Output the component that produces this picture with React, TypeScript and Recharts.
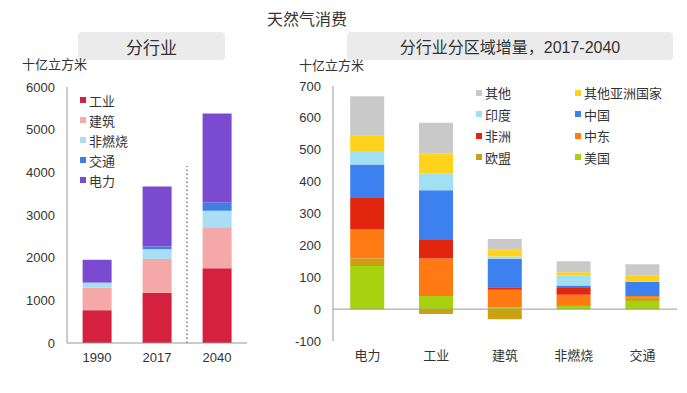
import React from 'react';
import { BarChart, Bar, XAxis, YAxis, Legend, ReferenceLine } from 'recharts';

// 左图：分行业（十亿立方米）
const sectorYears = ['1990', '2017', '2040'];
const industry = [770, 1175, 1750];
const buildings = [530, 795, 965];
const nonCombustion = [110, 230, 385];
const transport = [10, 60, 195];
const power = [530, 1410, 2085];
const sectorNames = ['工业', '建筑', '非燃烧', '交通', '电力'];
const sectorColors = ['#D6203F', '#F5A8A8', '#A8DFF4', '#3E7FE3', '#7A4BD1'];
const sectorTicks = [0, 1000, 2000, 3000, 4000, 5000, 6000];

// 右图：分行业分区域增量，2017-2040
const regionSectors = ['电力', '工业', '建筑', '非燃烧', '交通'];
const us = [135, 41, 6, 10, 23];
const eu = [24, -15, -32, 3, 14];
const middleEast = [91, 118, 55, 32, 4];
const africa = [99, 58, 8, 21, 0];
const china = [105, 156, 89, 8, 44];
const india = [42, 53, 7, 32, 3];
const otherAsia = [48, 63, 21, 10, 18];
const others = [124, 96, 34, 34, 35];
const regionNames = ['美国', '欧盟', '中东', '非洲', '中国', '印度', '其他亚洲国家', '其他'];
const regionColors = ['#A6D20F', '#C9A112', '#FF7A12', '#E2260E', '#3D80F0', '#A0E0F2', '#FFD21C', '#C9C9C9'];
const regionLegendOrder = ['其他', '其他亚洲国家', '印度', '中国', '非洲', '中东', '欧盟', '美国'];
const regionTicks = [-100, 0, 100, 200, 300, 400, 500, 600, 700];

const sectorSeries = [industry, buildings, nonCombustion, transport, power];
const sectorData = sectorYears.map((year, i) => {
  const row: Record<string, string | number> = { year };
  sectorNames.forEach((name, k) => { row[name] = sectorSeries[k][i]; });
  return row;
});

const regionSeries = [us, eu, middleEast, africa, china, india, otherAsia, others];
const regionData = regionSectors.map((sector, i) => {
  const row: Record<string, string | number> = { sector };
  regionNames.forEach((name, k) => { row[name] = regionSeries[k][i]; });
  return row;
});

const FONT = '"Liberation Sans", Arial, "Noto Sans CJK SC", sans-serif';
const tickStyle = { fontSize: 13, fill: '#333' };

const SquareLegend = ({ names, colorOf, columns, colWidth, rowHeight }: {
  names: string[]; colorOf: (n: string) => string; columns: number; colWidth: number; rowHeight: number;
}) => (
  <div style={{ display: 'grid', gridTemplateColumns: `repeat(${columns}, ${colWidth}px)`, fontFamily: FONT }}>
    {names.map(name => (
      <div key={name} style={{ display: 'flex', alignItems: 'center', height: rowHeight, fontSize: 13, color: '#333' }}>
        <span style={{ width: 6, height: 6, background: colorOf(name), marginRight: 3 }} />
        {name}
      </div>
    ))}
  </div>
);

const titleBox: React.CSSProperties = {
  position: 'absolute',
  top: 32,
  height: 28,
  background: '#EBEBEB',
  borderRadius: 4,
  display: 'flex',
  alignItems: 'center',
  justifyContent: 'center',
  color: '#333',
};

export default function App() {
  return (
    <div style={{ position: 'absolute', left: 0, top: 0, width: 687, height: 393, background: '#fff', fontFamily: FONT, overflow: 'hidden' }}>
      <div style={{ position: 'absolute', left: 0, width: 614, top: 6, textAlign: 'center', fontSize: 16, color: '#333' }}>天然气消费</div>

      <div style={{ ...titleBox, left: 78, width: 147, fontSize: 17 }}>分行业</div>
      <div style={{ ...titleBox, left: 347, width: 326, fontSize: 16 }}>分行业分区域增量，2017-2040</div>

      <div style={{ position: 'absolute', left: 22, top: 54, fontSize: 13, color: '#333' }}>十亿立方米</div>
      <div style={{ position: 'absolute', left: 299, top: 55, fontSize: 13, color: '#333' }}>十亿立方米</div>

      <div style={{ position: 'absolute', left: 0, top: 70 }}>
        <BarChart width={260} height={300} data={sectorData} margin={{ top: 17, right: 13, left: 0, bottom: 3 }} barCategoryGap="26%">
          <XAxis dataKey="year" tick={tickStyle} tickLine={false} tickMargin={4} axisLine={{ stroke: '#999' }} height={24} />
          <YAxis domain={[0, 6000]} ticks={sectorTicks} tick={tickStyle} tickLine={false} tickMargin={6} axisLine={{ stroke: '#999' }} width={67} />
          <ReferenceLine
            segment={[{ x: '2040', y: 0 }, { x: '2040', y: 4150 }]}
            position="start"
            stroke="#777"
            strokeWidth={1.5}
            strokeDasharray="1.5 2.5"
          />
          <Legend
            layout="vertical"
            align="center"
            verticalAlign="middle"
            wrapperStyle={{ left: 80, top: 20, width: 100 }}
            content={() => (
              <SquareLegend names={sectorNames} colorOf={n => sectorColors[sectorNames.indexOf(n)]} columns={1} colWidth={100} rowHeight={20} />
            )}
          />
          {sectorNames.map((name, k) => (
            <Bar key={name} dataKey={name} stackId="a" fill={sectorColors[k]} isAnimationActive={false} />
          ))}
        </BarChart>
      </div>

      <div style={{ position: 'absolute', left: 270, top: 70 }}>
        <BarChart width={417} height={300} data={regionData} stackOffset="sign" margin={{ top: 16, right: 10, left: 0, bottom: 3 }} barCategoryGap="25%">
          <XAxis dataKey="sector" tick={tickStyle} tickLine={false} tickMargin={4} axisLine={false} height={26} />
          <YAxis domain={[-100, 700]} ticks={regionTicks} tick={tickStyle} tickLine={false} tickMargin={6} axisLine={{ stroke: '#999' }} width={63} />
          <ReferenceLine y={0} stroke="#999" />
          <Legend
            layout="vertical"
            align="center"
            verticalAlign="middle"
            wrapperStyle={{ left: 206, top: 12, width: 200 }}
            content={() => (
              <SquareLegend names={regionLegendOrder} colorOf={n => regionColors[regionNames.indexOf(n)]} columns={2} colWidth={99} rowHeight={21.5} />
            )}
          />
          {regionNames.map((name, k) => (
            <Bar key={name} dataKey={name} stackId="a" fill={regionColors[k]} isAnimationActive={false} />
          ))}
        </BarChart>
      </div>
    </div>
  );
}
